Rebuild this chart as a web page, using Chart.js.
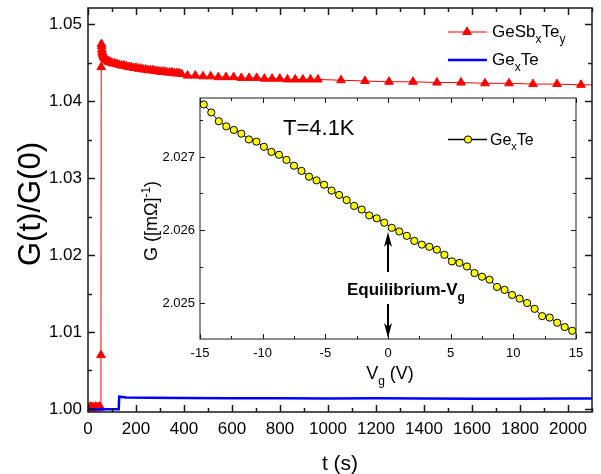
<!DOCTYPE html>
<html>
<head>
<meta charset="utf-8">
<script src="https://cdn.jsdelivr.net/npm/chart.js@4.4.0/dist/chart.umd.min.js"></script>
<style>
  body { margin: 0; background: #fff; }
  #wrap { position: relative; width: 601px; height: 474px; }
  #mainChart { position: absolute; left: 0; top: 0; }
  #insetChart { position: absolute; left: 130px; top: 90px; }
</style>
</head>
<body>
<div id="wrap">
  <canvas id="mainChart" width="601" height="474"></canvas>
  <canvas id="insetChart" width="460" height="300"></canvas>
</div>
<script>
// main panel: GeSbxTey (red triangles)
const gstTime = [0, 4, 8, 12, 16, 20, 24, 28, 32, 36, 40, 44, 48, 52,
  54, 55, 56, 57, 58, 59, 60, 62, 64, 66, 68, 71, 74, 78, 82, 86, 90, 95, 100,
  110, 120, 130, 140, 150, 160, 170, 180, 190, 200, 210, 220, 230, 240, 250,
  260, 270, 280, 290, 300, 310, 320, 330, 340, 350, 360, 370, 380, 390,
  415, 447, 479, 511, 543, 575, 607, 639, 671, 703, 735, 767, 799, 831, 863, 895, 927, 958,
  1054, 1154, 1254, 1354, 1454, 1554, 1654, 1754, 1854, 1954, 2054, 2154];
const gstRatio = [1.0002, 1.0001, 1.0002, 1.0003, 1.0001, 1.0002, 1.0002, 1.0001, 1.0003, 1.0002, 1.0001, 1.0002, 1.0003, 1.0002,
  1.0070, 1.0444, 1.0474, 1.0471, 1.0467, 1.0464, 1.0462, 1.0460, 1.0458, 1.0457, 1.0456, 1.0455, 1.0454, 1.0453, 1.0452, 1.0451, 1.0451, 1.0450, 1.0449,
  1.0449, 1.0448, 1.0447, 1.0446, 1.0446, 1.0445, 1.0444, 1.0444, 1.0443, 1.0443, 1.0442, 1.0442, 1.0441, 1.0441, 1.0440,
  1.0440, 1.0440, 1.0439, 1.0439, 1.0438, 1.0438, 1.0438, 1.0437, 1.0437, 1.0437, 1.0436, 1.0436, 1.0436, 1.0435,
  1.0433, 1.0433, 1.0432, 1.0432, 1.0431, 1.0431, 1.0431, 1.0430, 1.0430, 1.0430, 1.0429, 1.0429, 1.0429, 1.0428, 1.0428, 1.0428, 1.0428, 1.0428,
  1.0427, 1.0426, 1.0425, 1.0425, 1.0424, 1.0424, 1.0423, 1.0423, 1.0422, 1.0422, 1.0421, 1.0421];

// main panel: GexTe (blue line)
const gexTime = [0, 128, 130, 160, 250, 400, 600, 800, 1000, 1200, 1400, 1600, 1800, 2000, 2100];
const gexRatio = [0.99997, 0.99998, 1.00160, 1.00150, 1.00145, 1.00142, 1.00140, 1.00138, 1.00136, 1.00138, 1.00135, 1.00134, 1.00133, 1.00135, 1.00136];

// inset: G vs gate voltage at T=4.1K
const gateVoltage = [-14.7, -14.1, -13.5, -12.9, -12.3, -11.7, -11.1, -10.5, -9.9, -9.3,
  -8.7, -8.1, -7.5, -6.9, -6.3, -5.7, -5.1, -4.5, -3.9, -3.3,
  -2.7, -2.1, -1.5, -0.9, -0.3, 0.3, 0.9, 1.5, 2.1, 2.7,
  3.3, 3.9, 4.5, 5.1, 5.7, 6.3, 6.9, 7.5, 8.1, 8.7,
  9.3, 9.9, 10.5, 11.1, 11.7, 12.3, 12.9, 13.5, 14.1, 14.7];
const conductance = [2.02772, 2.02761, 2.02749, 2.02742, 2.02737, 2.02732, 2.02724, 2.02721, 2.02714, 2.02707,
  2.02703, 2.02696, 2.02688, 2.02681, 2.02673, 2.02668, 2.02662, 2.02654, 2.02648, 2.02641,
  2.02633, 2.02628, 2.02620, 2.02616, 2.02610, 2.02603, 2.02598, 2.02592, 2.02585, 2.02580,
  2.02577, 2.02573, 2.02566, 2.02557, 2.02555, 2.02550, 2.02541, 2.02536, 2.02532, 2.02522,
  2.02518, 2.02511, 2.02506, 2.02500, 2.02492, 2.02482, 2.02480, 2.02473, 2.02467, 2.02462];

// tick labels
const timeTicks = [0, 200, 400, 600, 800, 1000, 1200, 1400, 1600, 1800, 2000];
const ratioTicks = [1.00, 1.01, 1.02, 1.03, 1.04, 1.05];
const voltageTicks = [-15, -10, -5, 0, 5, 10, 15];
const conductanceTicks = [2.025, 2.026, 2.027];

const FONT = "'Liberation Sans', Arial, sans-serif";
Chart.defaults.font.family = FONT;
Chart.defaults.color = '#000';

const RED = '#ff0000';
const BLUE = '#0000ff';
const YELLOW = '#ffff00';

// text with sub/superscripts; parts = [[text, 'sub'|'sup'|null], ...]
function drawRich(ctx, parts, x, y, size, weight, align) {
  weight = weight || 'normal';
  const fontOf = p => (p[1] ? weight + ' ' + Math.round(size * 0.68) + 'px ' + FONT : weight + ' ' + size + 'px ' + FONT);
  const widths = parts.map(p => { ctx.font = fontOf(p); return ctx.measureText(p[0]).width; });
  const total = widths.reduce((a, b) => a + b, 0);
  let cx = align === 'center' ? x - total / 2 : x;
  ctx.textAlign = 'left';
  ctx.textBaseline = 'alphabetic';
  parts.forEach((p, i) => {
    ctx.font = fontOf(p);
    const dy = p[1] === 'sub' ? size * 0.33 : p[1] === 'sup' ? -size * 0.42 : 0;
    ctx.fillText(p[0], cx, y + dy);
    cx += widths[i];
  });
}

function isMultiple(v, step) {
  const r = v / step;
  return Math.abs(r - Math.round(r)) < 1e-6;
}

// border box with inward ticks on all four sides
function framePlugin(cfg) {
  return {
    id: 'frame',
    afterDatasetsDraw(chart) {
      const { ctx, chartArea: a, scales: { x, y } } = chart;
      ctx.save();
      ctx.strokeStyle = '#1a1a1a';
      ctx.lineWidth = cfg.lineWidth;
      ctx.strokeRect(a.left, a.top, a.right - a.left, a.bottom - a.top);
      ctx.beginPath();
      for (let v = Math.ceil(x.min / cfg.xMinor) * cfg.xMinor; v <= x.max + 1e-9; v += cfg.xMinor) {
        const px = Math.round(x.getPixelForValue(v)) + 0.5;
        const len = isMultiple(v, cfg.xMajor) ? cfg.major : cfg.minor;
        ctx.moveTo(px, a.bottom); ctx.lineTo(px, a.bottom - len);
        ctx.moveTo(px, a.top); ctx.lineTo(px, a.top + len);
      }
      const y0 = Math.ceil(y.min / cfg.yMinor - 1e-6) * cfg.yMinor;
      for (let k = 0; y0 + k * cfg.yMinor <= y.max + 1e-9; k++) {
        const v = y0 + k * cfg.yMinor;
        const py = Math.round(y.getPixelForValue(v)) + 0.5;
        const len = isMultiple(v, cfg.yMajor) ? cfg.major : cfg.minor;
        ctx.moveTo(a.left, py); ctx.lineTo(a.left + len, py);
        ctx.moveTo(a.right, py); ctx.lineTo(a.right - len, py);
      }
      ctx.stroke();
      ctx.restore();
    }
  };
}

const mainText = {
  id: 'mainText',
  afterDraw(chart) {
    const ctx = chart.ctx;
    ctx.save();
    ctx.fillStyle = '#000';
    // axis titles
    ctx.save();
    ctx.translate(29, 204);
    ctx.rotate(-Math.PI / 2);
    drawRich(ctx, [['G(t)/G(0)', null]], 0, 31 * 0.36, 31, 'normal', 'center');
    ctx.restore();
    drawRich(ctx, [['t (s)', null]], 340, 470, 21, 'normal', 'center');
    // legend
    ctx.strokeStyle = RED; ctx.lineWidth = 1;
    ctx.beginPath(); ctx.moveTo(448, 32); ctx.lineTo(487, 32); ctx.stroke();
    ctx.fillStyle = RED;
    Chart.helpers.drawPoint(ctx, { pointStyle: 'triangle', radius: 5, borderWidth: 1 }, 467, 32);
    ctx.fill();
    ctx.strokeStyle = BLUE; ctx.lineWidth = 2.5;
    ctx.beginPath(); ctx.moveTo(448, 60); ctx.lineTo(487, 60); ctx.stroke();
    ctx.fillStyle = '#000';
    drawRich(ctx, [['GeSb', null], ['x', 'sub'], ['Te', null], ['y', 'sub']], 492, 37, 17);
    drawRich(ctx, [['Ge', null], ['x', 'sub'], ['Te', null]], 492, 65, 17);
    ctx.restore();
  }
};

function arrow(ctx, x, yFrom, yTo) {
  const dir = yTo > yFrom ? 1 : -1;
  ctx.beginPath();
  ctx.moveTo(x, yFrom); ctx.lineTo(x, yTo - dir * 10);
  ctx.stroke();
  ctx.beginPath();
  ctx.moveTo(x, yTo);
  ctx.lineTo(x - 4, yTo - dir * 15);
  ctx.lineTo(x, yTo - dir * 11);
  ctx.lineTo(x + 4, yTo - dir * 15);
  ctx.closePath();
  ctx.fill();
}

const insetText = {
  id: 'insetText',
  afterDraw(chart) {
    const ctx = chart.ctx;
    const { x, y } = chart.scales;
    ctx.save();
    ctx.fillStyle = '#000';
    ctx.strokeStyle = '#000';
    // titles
    ctx.save();
    ctx.translate(21, 131);
    ctx.rotate(-Math.PI / 2);
    drawRich(ctx, [['G ([m\u03A9]', null], ['-1', 'sup'], [')', null]], 0, 18 * 0.36, 18, 'normal', 'center');
    ctx.restore();
    drawRich(ctx, [['V', null], ['g', 'sub'], [' (V)', null]], 260, 289, 18, 'normal', 'center');
    drawRich(ctx, [['T=4.1K', null]], 153, 45, 22);
    // legend
    ctx.lineWidth = 1.5;
    ctx.beginPath(); ctx.moveTo(318, 49.5); ctx.lineTo(357, 49.5); ctx.stroke();
    ctx.beginPath(); ctx.arc(338, 49.5, 3.6, 0, Math.PI * 2);
    ctx.fillStyle = YELLOW; ctx.fill(); ctx.lineWidth = 1; ctx.stroke();
    ctx.fillStyle = '#000';
    drawRich(ctx, [['Ge', null], ['x', 'sub'], ['Te', null]], 360, 55, 16);
    // equilibrium marker at Vg = 0
    const x0 = Math.round(x.getPixelForValue(0));
    ctx.lineWidth = 2;
    arrow(ctx, x0, y.getPixelForValue(2.025425), y.getPixelForValue(2.025973));
    arrow(ctx, x0, y.getPixelForValue(2.024986), y.getPixelForValue(2.024521));
    drawRich(ctx, [['Equilibrium-V', null], ['g', 'sub']], 217, 205, 17, 'bold');
    ctx.restore();
  }
};

function fixX(h) {
  return s => { s.height = h; s.paddingLeft = 0; s.paddingRight = 0; };
}
function fixY(w) {
  return s => { s.width = w; s.paddingTop = 0; s.paddingBottom = 0; };
}

const gstPoints = gstTime.map((t, i) => ({ x: t, y: gstRatio[i] }));
const gexPoints = gexTime.map((t, i) => ({ x: t, y: gexRatio[i] }));
const insetPoints = gateVoltage.map((v, i) => ({ x: v, y: conductance[i] }));

new Chart(document.getElementById('mainChart'), {
  type: 'scatter',
  data: {
    datasets: [
      {
        label: 'GeSbxTey',
        data: gstPoints,
        showLine: true,
        borderColor: RED,
        backgroundColor: RED,
        borderWidth: 1,
        pointStyle: 'triangle',
        pointRadius: 5,
        pointBorderWidth: 1,
        order: 1
      },
      {
        label: 'GexTe',
        data: gexPoints,
        showLine: true,
        borderColor: BLUE,
        backgroundColor: BLUE,
        borderWidth: 2.5,
        pointRadius: 0,
        order: 0
      }
    ]
  },
  options: {
    responsive: false,
    animation: false,
    events: [],
    layout: { padding: { left: 0, top: 8, right: 9, bottom: 0 } },
    plugins: { legend: { display: false }, tooltip: { enabled: false } },
    scales: {
      x: {
        type: 'linear', min: 0, max: 2100,
        grid: { display: false, drawTicks: false }, border: { display: false },
        ticks: { font: { size: 17 }, padding: 7, maxRotation: 0, autoSkip: false, callback: v => String(v) },
        afterBuildTicks: s => { s.ticks = timeTicks.map(v => ({ value: v })); },
        afterFit: fixX(62)
      },
      y: {
        type: 'linear', min: 0.99961, max: 1.05208,
        grid: { display: false, drawTicks: false }, border: { display: false },
        ticks: { font: { size: 17 }, padding: 6, autoSkip: false, callback: v => v.toFixed(2) },
        afterBuildTicks: s => { s.ticks = ratioTicks.map(v => ({ value: v })); },
        afterFit: fixY(88)
      }
    }
  },
  plugins: [framePlugin({ lineWidth: 1.5, xMajor: 200, xMinor: 100, yMajor: 0.01, yMinor: 0.005, major: 7, minor: 4 }), mainText]
});

new Chart(document.getElementById('insetChart'), {
  type: 'scatter',
  data: {
    datasets: [{
      label: 'GexTe',
      data: insetPoints,
      showLine: true,
      borderColor: '#000',
      borderWidth: 1,
      pointRadius: 3.6,
      pointBackgroundColor: YELLOW,
      pointBorderColor: '#000',
      pointBorderWidth: 1
    }]
  },
  options: {
    responsive: false,
    animation: false,
    events: [],
    layout: { padding: { left: 0, top: 8, right: 14, bottom: 0 } },
    plugins: { legend: { display: false }, tooltip: { enabled: false } },
    scales: {
      x: {
        type: 'linear', min: -15, max: 15,
        grid: { display: false, drawTicks: false }, border: { display: false },
        ticks: { font: { size: 13 }, padding: 7, maxRotation: 0, autoSkip: false },
        afterBuildTicks: s => { s.ticks = voltageTicks.map(v => ({ value: v })); },
        afterFit: fixX(51)
      },
      y: {
        type: 'linear', min: 2.024507, max: 2.027808,
        grid: { display: false, drawTicks: false }, border: { display: false },
        ticks: { font: { size: 13 }, padding: 5, autoSkip: false, callback: v => v.toFixed(3) },
        afterBuildTicks: s => { s.ticks = conductanceTicks.map(v => ({ value: v })); },
        afterFit: fixY(70)
      }
    }
  },
  plugins: [framePlugin({ lineWidth: 1, xMajor: 5, xMinor: 2.5, yMajor: 0.001, yMinor: 0.0005, major: 5, minor: 3 }), insetText]
});
</script>
</body>
</html>
